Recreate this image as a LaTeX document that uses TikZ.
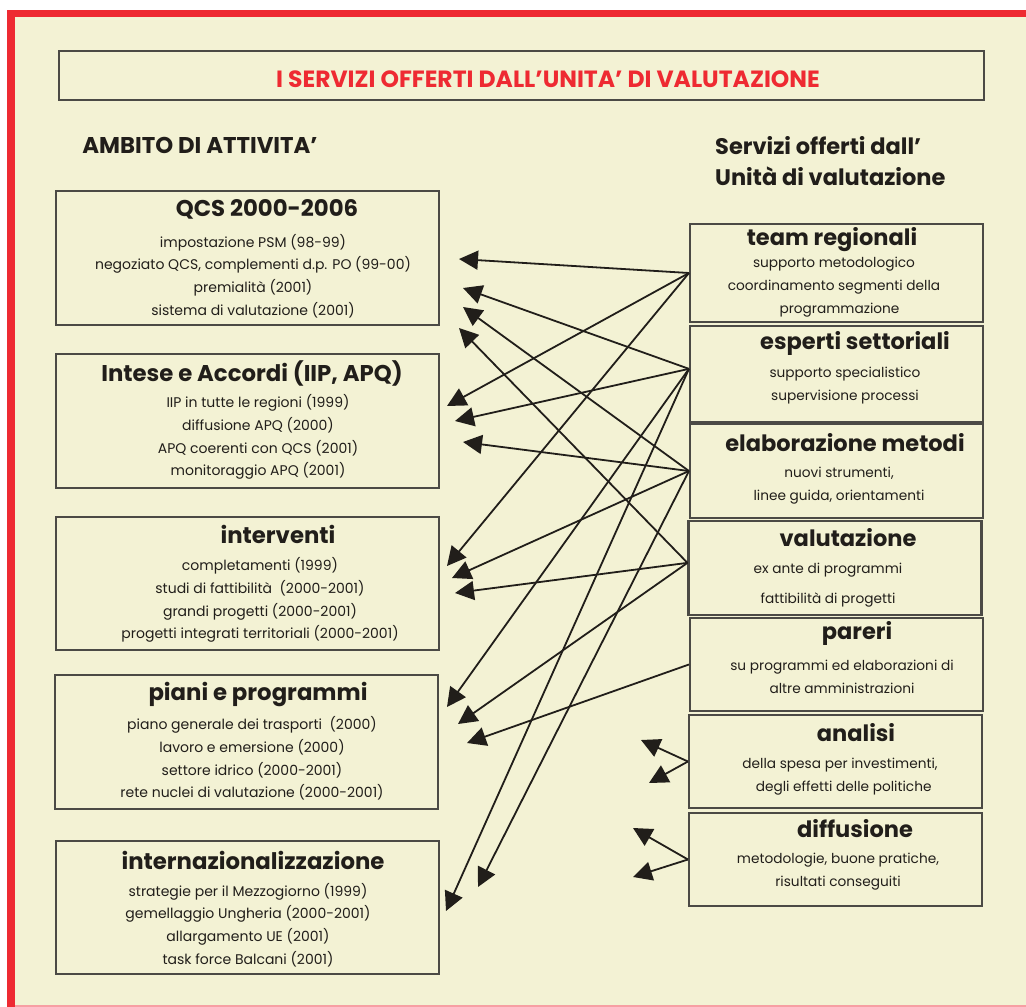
\documentclass[tikz,border=0pt]{standalone}
\usepackage{fontspec}
\setmainfont{Poppins}
\usetikzlibrary{arrows.meta,positioning}
\definecolor{cream}{HTML}{F3F2D4}
\definecolor{framered}{HTML}{EE2A32}
\definecolor{boxgray}{HTML}{4B4A45}
\definecolor{ink}{HTML}{211E1A}

\begin{document}
\begin{tikzpicture}[x=1pt,y=-1pt,
  lbox/.style={draw=boxgray, line width=2.1pt, minimum width=383pt, minimum height=134pt, inner sep=0pt},
  rbox/.style={draw=boxgray, line width=2.1pt, minimum width=293pt, minimum height=94pt, inner sep=0pt},
  ttl/.style={font=\fontsize{22.8}{26}\selectfont\bfseries, text=ink, inner sep=0pt},
  rttl/.style={ttl, font=\fontsize{22.5}{26}\selectfont\bfseries},
  body/.style={font=\fontsize{14}{22.7}\selectfont, text=ink, align=center, inner sep=0pt},
  rbody/.style={body, font=\fontsize{13.7}{23}\selectfont},
  arr/.style={draw=ink, line width=1.8pt, -{Triangle[length=19pt,width=19pt]}}]
\useasboundingbox (0,0) rectangle (1026,1007);
\fill[white] (0,0) rectangle (1026,1007);
\fill[framered] (7,10) rectangle (1026,1007);
\fill[cream] (15,17) rectangle (1026,1005);
\fill[framered!45] (15,1005) rectangle (1026,1007);

\node[draw=boxgray, line width=2.1pt, minimum width=925pt, minimum height=49pt] (head) at (521.5,75.5) {};
\node[ttl, text=framered, font=\fontsize{23.5}{26}\selectfont\bfseries] (headT) at (548,79) {I SERVIZI OFFERTI DALL'UNITA' DI VALUTAZIONE};
\node[ttl] (ambito) at (200,145) {AMBITO DI ATTIVITA'};
\node[ttl, anchor=west, align=left, font=\fontsize{22.5}{31}\selectfont\bfseries] (servizi) at (715,161.5) {Servizi offerti dall'\\Unità di valutazione};

\node[lbox] (qcs) at (247.5,258) {};
\node[ttl] (qcsT) at (267,209) {QCS 2000-2006};
\node[body] (qcsB) at (253,276) {impostazione PSM (98-99)\\negoziato QCS, complementi d.p. PO (99-00)\\premialità (2001)\\sistema di valutazione (2001)};

\node[lbox] (intese) at (247.5,421) {};
\node[ttl] (inteseT) at (252,373) {Intese e Accordi (IIP, APQ)};
\node[body] (inteseB) at (258,437) {IIP in tutte le regioni (1999)\\diffusione APQ (2000)\\APQ coerenti con QCS (2001)\\monitoraggio APQ (2001)};

\node[lbox, minimum height=133pt] (interv) at (247.5,583.5) {};
\node[ttl] (intervT) at (278,534) {interventi};
\node[body] (intervB) at (260,600) {completamenti (1999)\\studi di fattibilità\ \ (2000-2001)\\grandi progetti (2000-2001)\\progetti integrati territoriali (2000-2001)};

\node[lbox] (piani) at (246.5,742) {};
\node[ttl] (pianiT) at (258,694) {piani e programmi};
\node[body] (pianiB) at (252,758.5) {piano generale dei trasporti\ \ (2000)\\lavoro e emersione (2000)\\settore idrico (2000-2001)\\rete nuclei di valutazione (2000-2001)};

\node[lbox, minimum height=133pt] (intern) at (247.5,907.5) {};
\node[ttl] (internT) at (253,860) {internazionalizzazione};
\node[body] (internB) at (248,925) {strategie per il Mezzogiorno (1999)\\gemellaggio Ungheria (2000-2001)\\allargamento UE (2001)\\task force Balcani (2001)};

\node[rbox, minimum height=98pt] (team) at (836.5,273) {};
\node[rttl] (teamT) at (832,240) {team regionali};
\node[rbody] (teamB) at (834,287) {supporto metodologico\\coordinamento segmenti della\\\ \ \ programmazione};

\node[rbox, minimum height=96pt] (esperti) at (836.5,374) {};
\node[rttl] (espertiT) at (855,343) {esperti settoriali};
\node[rbody] (espertiB) at (845,385.5) {supporto specialistico\\supervisione processi};

\node[rbox] (elab) at (836.5,471) {};
\node[rttl] (elabT) at (845,443) {elaborazione metodi};
\node[rbody] (elabB) at (839,485.5) {nuovi strumenti,\\linee guida, orientamenti};

\node[rbox] (valut) at (835,568) {};
\node[rttl] (valutT) at (848,538) {valutazione};
\node[rbody] (valutB) at (828,585) {ex ante di programmi\\[7pt]fattibilità di progetti};

\node[rbox, minimum height=93pt] (pareri) at (836.5,664.5) {};
\node[rttl] (pareriT) at (857,633) {pareri};
\node[rbody] (pareriB) at (842,676.5) {su programmi ed elaborazioni di\\altre amministrazioni};

\node[rbox, minimum height=93pt] (analisi) at (835.5,761.5) {};
\node[rttl] (analisiT) at (856,733) {analisi};
\node[rbody] (analisiB) at (840,776.5) {della spesa per investimenti,\\\ \ degli effetti delle politiche};

\node[rbox, minimum height=93pt] (diffus) at (835.5,859.5) {};
\node[rttl] (diffusT) at (855,829) {diffusione};
\node[rbody] (diffusB) at (838,872) {metodologie, buone pratiche,\\risultati conseguiti};

\coordinate (q1) at (459,259);
\coordinate (q2) at (463,288);
\coordinate (q3) at (463,307);
\coordinate (q4) at (459,328);
\coordinate (i1) at (447,406);
\coordinate (i2) at (455,421);
\coordinate (i3) at (463,442);
\coordinate (v1) at (447,566);
\coordinate (v2) at (452,578);
\coordinate (v3) at (455,593);
\coordinate (p1) at (447,707);
\coordinate (p2) at (458,724);
\coordinate (p3) at (467,743);
\coordinate (n1) at (478,887);
\coordinate (n2) at (446,911);
\coordinate (a1) at (641,740);
\coordinate (a2) at (649,783);
\coordinate (d1) at (633,828);
\coordinate (d2) at (633,877);

\foreach \s/\t in {team.west/q1, team.west/i1, team.west/v1,
    esperti.178/q2, esperti.178/i2, esperti.178/p1, esperti.178/n2,
    elab.west/q3, elab.west/i3, elab.west/v2, elab.west/n1,
    valut.178/q4, valut.178/v3, valut.178/p2,
    pareri.west/p3, analisi.west/a1, analisi.west/a2,
    diffus.west/d1, diffus.west/d2}
  \draw[arr] (\s) -- (\t);
\end{tikzpicture}
\end{document}
